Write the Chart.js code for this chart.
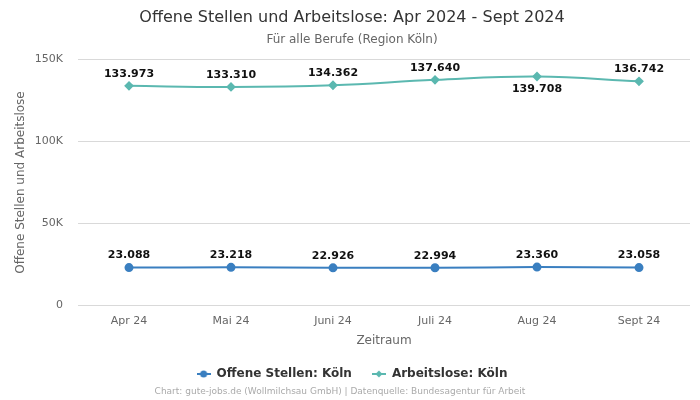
<!DOCTYPE html>
<html><head><meta charset="utf-8">
<script src="https://cdn.jsdelivr.net/npm/chart.js@4/dist/chart.umd.min.js"></script>
<style>html,body{margin:0;padding:0;background:#fff;}#wrap{width:700px;height:400px;}</style>
</head><body><div id="wrap"><canvas id="c" width="700" height="400"></canvas></div>
<script>
const categories = ["Apr 24","Mai 24","Juni 24","Juli 24","Aug 24","Sept 24"];
const offeneStellen = [23088,23218,22926,22994,23360,23058];
const arbeitslose = [133973,133310,134362,137640,139708,136742];
const yTicks = [0,50000,100000,150000];
const labelBelowArbeitslose = [false,false,false,false,true,false];

const blue = "#3a7fc0", teal = "#5bb8b0";
const FONT = "'DejaVu Sans', sans-serif";

function legendIcon(color, style){
  const c = document.createElement('canvas'); c.width = 14; c.height = 10;
  const g = c.getContext('2d');
  g.strokeStyle = color; g.lineWidth = 2;
  g.beginPath(); g.moveTo(0,5); g.lineTo(14,5); g.stroke();
  g.fillStyle = color; g.beginPath();
  if (style === 'circle') { g.arc(7,5,3.5,0,Math.PI*2); }
  else { g.moveTo(7,1.5); g.lineTo(10.5,5); g.lineTo(7,8.5); g.lineTo(3.5,5); g.closePath(); }
  g.fill();
  return c;
}

const fmt = v => v.toLocaleString('de-DE');

const labelPlugin = {
  id: 'vals',
  afterDatasetsDraw(chart){
    const ctx = chart.ctx;
    ctx.save();
    ctx.font = "bold 11px " + FONT;
    ctx.fillStyle = "#111";
    ctx.textAlign = 'center'; ctx.textBaseline = 'middle';
    chart.data.datasets.forEach((ds, di) => {
      const meta = chart.getDatasetMeta(di);
      meta.data.forEach((pt, i) => {
        const below = di === 1 && labelBelowArbeitslose[i];
        ctx.fillText(fmt(ds.data[i]), pt.x, pt.y + (below ? 13 : -12));
      });
    });
    ctx.font = "9px " + FONT;
    ctx.fillStyle = "#aaa";
    ctx.fillText("Chart: gute-jobs.de (Wollmilchsau GmbH) | Datenquelle: Bundesagentur für Arbeit", 340, 392);
    ctx.restore();
  }
};

new Chart(document.getElementById('c'), {
  type: 'line',
  data: {
    labels: categories,
    datasets: [
      { label: "Offene Stellen: Köln", data: offeneStellen, borderColor: blue, backgroundColor: blue,
        pointStyle: 'circle', pointRadius: 3.5, borderWidth: 2, tension: 0.4 },
      { label: "Arbeitslose: Köln", data: arbeitslose, borderColor: teal, backgroundColor: teal,
        pointStyle: 'rectRot', pointRadius: 3.5, borderWidth: 2, tension: 0.4 }
    ]
  },
  plugins: [labelPlugin],
  options: {
    responsive: false, animation: false,
    layout: { padding: { left: 14, right: 10, top: 0, bottom: 10 } },
    plugins: {
      title: { display: true, text: "Offene Stellen und Arbeitslose: Apr 2024 - Sept 2024",
        color: "#333", font: { family: FONT, size: 16, weight: 'normal' }, padding: { top: 8, bottom: 5 } },
      subtitle: { display: true, text: "Für alle Berufe (Region Köln)", color: "#666",
        font: { family: FONT, size: 12 }, padding: { bottom: 13 } },
      legend: { position: 'bottom', labels: { usePointStyle: true, pointStyleWidth: 14, boxHeight: 10, color: "#333",
        font: { family: FONT, size: 12, weight: 'bold' }, padding: 20,
        generateLabels(chart){
          return chart.data.datasets.map((ds, i) => ({
            text: ds.label, fillStyle: ds.borderColor, strokeStyle: ds.borderColor,
            pointStyle: legendIcon(ds.borderColor, i === 0 ? 'circle' : 'diamond'),
            datasetIndex: i, hidden: false, fontColor: "#333"
          }));
        } } },
      tooltip: { enabled: false }
    },
    scales: {
      x: { offset: true, grid: { display: false }, border: { display: false },
        ticks: { color: "#666", font: { family: FONT, size: 11 }, padding: 1 },
        title: { display: true, text: "Zeitraum", color: "#666", font: { family: FONT, size: 12 }, padding: { top: 5, bottom: 0 } } },
      y: { min: 0, max: 150000, grid: { color: "#d9d9d9", drawTicks: false }, border: { display: false },
        afterBuildTicks(scale){ scale.ticks = yTicks.map(v => ({ value: v })); },
        afterFit(scale){ scale.width = 64; },
        ticks: { color: "#666", font: { family: FONT, size: 11 }, padding: 15,
          callback: v => v === 0 ? "0" : (v/1000) + "K" },
        title: { display: true, text: "Offene Stellen und Arbeitslose", color: "#666",
          font: { family: FONT, size: 12 }, padding: { top: 0, bottom: 0 } } }
    }
  }
});
</script></body></html>
